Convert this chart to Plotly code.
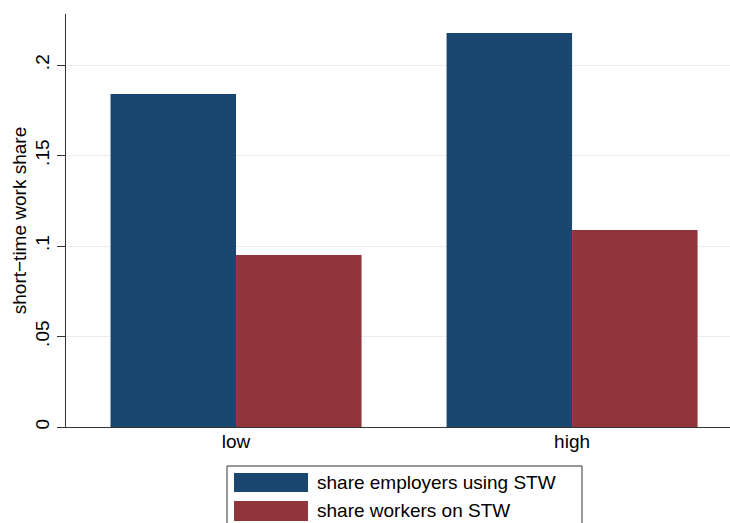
import plotly.graph_objects as go

categories = ["low", "high"]
employers = [0.184, 0.2177]
workers = [0.095, 0.1088]
series_names = ["share employers using STW", "share workers on STW"]
tick_vals = [0, 0.05, 0.1, 0.15, 0.2]
tick_text = ["0", ".05", ".1", ".15", ".2"]

NAVY = "#1a476f"
MAROON = "#90353b"
FONT = "Liberation Sans, Arial, Helvetica, sans-serif"
FS = 19

fig = go.Figure()
fig.add_trace(go.Bar(x=categories, y=employers, name=series_names[0],
                     marker=dict(color=NAVY, line=dict(width=0)), showlegend=False))
fig.add_trace(go.Bar(x=categories, y=workers, name=series_names[1],
                     marker=dict(color=MAROON, line=dict(width=0)), showlegend=False))

W, H = 730, 523
L, R, T, B = 66, 0, 14, 96
pw, ph = W - L - R, H - T - B

def px(x):
    return (x - L) / pw

def py(y):
    return (H - B - y) / ph

shapes = [
    dict(type="rect", xref="paper", yref="paper", x0=px(227), x1=px(582), y0=py(466), y1=py(540),
         line=dict(color="#333333", width=1), fillcolor="white", layer="above"),
    dict(type="rect", xref="paper", yref="paper", x0=px(234), x1=px(308), y0=py(473), y1=py(492),
         line=dict(width=0), fillcolor=NAVY),
    dict(type="rect", xref="paper", yref="paper", x0=px(234), x1=px(308), y0=py(501), y1=py(521),
         line=dict(width=0), fillcolor=MAROON),
]
annotations = [
    dict(xref="paper", yref="paper", x=px(315), y=py(482.5), text=series_names[0], showarrow=False,
         xanchor="left", yanchor="middle", font=dict(size=FS, color="black", family=FONT)),
    dict(xref="paper", yref="paper", x=px(315), y=py(511), text=series_names[1], showarrow=False,
         xanchor="left", yanchor="middle", font=dict(size=FS, color="black", family=FONT)),
]

fig.update_layout(
    width=W, height=H,
    margin=dict(l=L, r=R, t=T, b=B, pad=0),
    paper_bgcolor="white", plot_bgcolor="white",
    barmode="group", bargap=0.253, bargroupgap=0,
    font=dict(family=FONT, size=FS, color="black"),
    shapes=shapes, annotations=annotations,
    showlegend=False,
)
fig.update_xaxes(type="category", range=[-0.506, 1.470], showline=True, linecolor="#333333",
                 linewidth=1.2, showgrid=False, ticks="", tickfont=dict(size=FS), zeroline=False,
                 ticklabelstandoff=-3)
fig.update_yaxes(range=[0, 0.2282], tickvals=tick_vals, ticktext=tick_text, tickangle=-90,
                 showline=True, linecolor="#333333", linewidth=1.2, ticks="outside", ticklen=8,
                 tickcolor="#333333", tickfont=dict(size=FS), showgrid=True, gridcolor="#e6eff1",
                 gridwidth=1.4, zeroline=False,
                 title=dict(text="short\u2212time work share", font=dict(size=FS), standoff=0))

fig.write_html("out.html", config={"displayModeBar": False},
               post_script="document.body.style.margin='0';document.body.style.padding='0';")
